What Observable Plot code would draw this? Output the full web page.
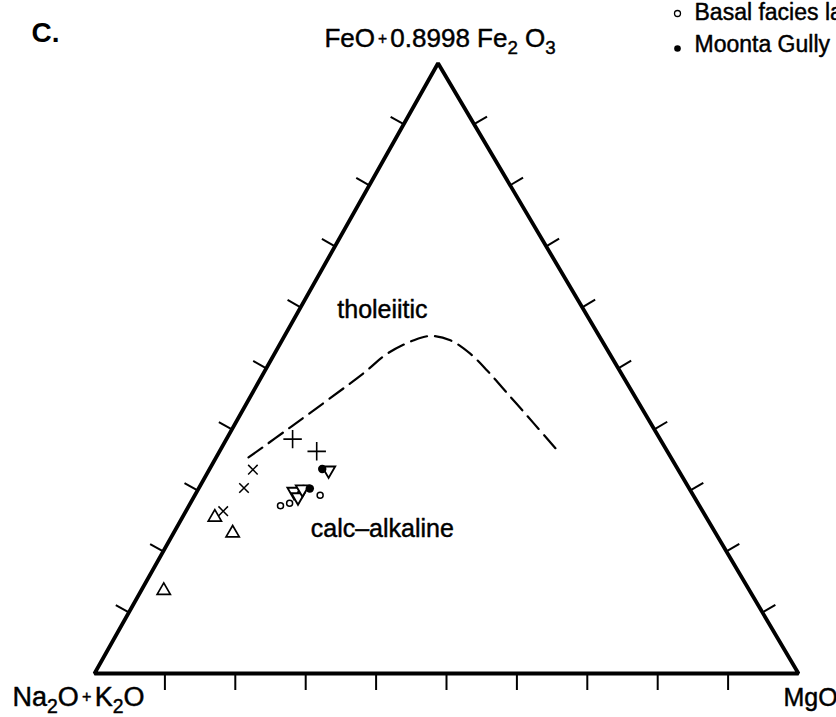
<!DOCTYPE html>
<html><head><meta charset="utf-8">
<script src="https://cdn.jsdelivr.net/npm/d3@7"></script>
<script src="https://cdn.jsdelivr.net/npm/@observablehq/plot@0.6"></script>
<style>
html,body{margin:0;padding:0;background:#fff;overflow:hidden;}
#chart{width:836px;height:717px;}
</style></head><body><div id="chart"></div>
<script>
// ---- data: compositions in percent, [Na2O+K2O, FeO*, MgO] ----
const cornerLabels = ["Na_2O+K_2O", "FeO+0.8998 Fe_2 O_3", "MgO"];
const tickValues = [10, 20, 30, 40, 50, 60, 70, 80, 90];

// tholeiitic / calc-alkaline boundary (dashed)
const boundaryA = [60.0, 51.6, 36.6, 31.6, 26.7, 24.0, 21.5, 19.8, 18.8, 17.7, 16.6, 15.4];
const boundaryF = [35.4, 40.3, 49.2, 52.4, 54.6, 55.3, 54.6, 52.4, 49.6, 45.3, 40.9, 36.0];
const boundaryM = [4.6, 8.1, 14.2, 16.0, 18.7, 20.7, 23.9, 27.8, 31.6, 37.0, 42.5, 48.6];

// samples by symbol
const timesPts   = [[60.4, 33.4, 6.2], [63.2, 30.4, 6.4], [68.1, 26.6, 5.3]];
const triUpPts   = [[69.8, 25.6, 4.6], [68.6, 23.0, 8.4], [83.2, 13.6, 3.2]];
const plusPts    = [[52.2, 38.4, 9.4], [49.8, 36.4, 13.8]];
const triDownPts = [[49.7, 33.3, 17.0], [56.4, 29.8, 13.8], [56.3, 28.9, 14.8], [55.0, 30.2, 14.8]];
const moontaPts  = [[50.5, 33.5, 16.0], [53.9, 30.3, 15.8]];
const basalPts   = [[53.0, 29.2, 17.8], [59.5, 27.5, 13.0], [58.0, 27.9, 14.1], [54.8, 30.3, 14.9]];

const fieldLabels = ["tholeiitic", "calc\u2013alkaline"];
const fieldLabelPos = [[29.3, 58.2, 12.5], [47.7, 22.3, 30.0]];
const legendLabels = ["Basal facies lavas", "Moonta Gully"];
const panelLabel = "C.";

// ---- ternary frame geometry (base = 1) ----
const apexX = 0.488, H = 0.867;
const proj = ([a, f, m]) => { const s = a + f + m; return {x: m / s + (f / s) * apexX, y: (f / s) * H}; };

const BL = proj([100, 0, 0]), BR = proj([0, 0, 100]), TOP = proj([0, 100, 0]);
const frame = [BL, BR, TOP, BL, BR];

// ticks: outward normals, length in frame units
const L = 15 / 704;
const nBottom = [0, -1];
const lenLeft = Math.hypot(apexX, H), nLeft = [-H / lenLeft, apexX / lenLeft];
const lenRight = Math.hypot(1 - apexX, H), nRight = [H / lenRight, (1 - apexX) / lenRight];
const tickSegs = [];
for (const t of tickValues) {
  const pb = proj([100 - t, 0, t]);
  tickSegs.push({x1: pb.x, y1: pb.y, x2: pb.x + L * nBottom[0], y2: pb.y + L * nBottom[1] * 1.1});
  const pl = proj([100 - t, t, 0]);
  tickSegs.push({x1: pl.x, y1: pl.y, x2: pl.x + L * nLeft[0], y2: pl.y + L * nLeft[1]});
  const pr = proj([0, t, 100 - t]);
  tickSegs.push({x1: pr.x, y1: pr.y, x2: pr.x + L * nRight[0], y2: pr.y + L * nRight[1]});
}

const boundary = boundaryA.map((a, i) => proj([a, boundaryF[i], boundaryM[i]]));
const P = arr => arr.map(proj);
const labels = fieldLabels.map((t, i) => ({text: t, ...proj(fieldLabelPos[i])}));

const font = "'Liberation Sans', Arial, Helvetica, sans-serif";
const ink = {fill: "#000", stroke: "#000", strokeWidth: 0.45};

const plot = Plot.plot({
  width: 836, height: 717,
  marginTop: 0, marginRight: 0, marginBottom: 0, marginLeft: 0,
  x: {domain: [0, 1], range: [94, 798], axis: null},
  y: {domain: [0, H], range: [673, 62.7], axis: null},
  style: {fontFamily: font, background: "#fff", color: "#000", overflow: "visible"},
  marks: [
    Plot.link(tickSegs, {x1: "x1", y1: "y1", x2: "x2", y2: "y2", stroke: "#000", strokeWidth: 2}),
    Plot.line(frame, {x: "x", y: "y", stroke: "#000", strokeWidth: 3.8, strokeLinejoin: "miter", strokeLinecap: "butt"}),
    Plot.line(boundary, {x: "x", y: "y", curve: "catmull-rom", stroke: "#000", strokeWidth: 2.2, strokeDasharray: "17,8"}),
    Plot.dot(P(timesPts), {x: "x", y: "y", symbol: "times", r: 4.4, stroke: "#000", strokeWidth: 1.5}),
    Plot.dot(P(plusPts), {x: "x", y: "y", symbol: "plus", r: 6, stroke: "#000", strokeWidth: 1.6}),
    Plot.dot(P(triUpPts), {x: "x", y: "y", symbol: "triangle", r: 4.9, stroke: "#000", fill: "#fff", strokeWidth: 1.7}),
    Plot.dot(P(basalPts), {x: "x", y: "y", symbol: "circle", r: 3, stroke: "#000", fill: "#fff", strokeWidth: 1.5}),
    Plot.dot(P(triDownPts), {x: "x", y: "y", symbol: "triangle", rotate: 180, r: 4.9, stroke: "#000", fill: "#fff", strokeWidth: 1.9}),
    Plot.dot(P(moontaPts), {x: "x", y: "y", symbol: "circle", r: 4.2, fill: "#000", stroke: "none"}),
    Plot.text(labels, {x: "x", y: "y", text: "text", fontSize: 25, lineAnchor: "bottom", textAnchor: "middle", ...ink}),
    // corner labels
    Plot.text([cornerLabels[0]], {x: () => BL.x, y: () => BL.y, text: d => d, dx: -16, dy: 32, fontSize: 27, lineAnchor: "bottom", textAnchor: "middle", ...ink}),
    Plot.text([cornerLabels[1]], {x: () => TOP.x, y: () => TOP.y, text: d => d, dx: 2, dy: -16, fontSize: 26, lineAnchor: "bottom", textAnchor: "middle", ...ink}),
    Plot.text([cornerLabels[2]], {x: () => BR.x, y: () => BR.y, text: d => d, dx: 12, dy: 32, fontSize: 25, lineAnchor: "bottom", textAnchor: "middle", ...ink}),
    // panel label
    Plot.text([panelLabel], {frameAnchor: "top-left", text: d => d, dx: 31, dy: 41, fontSize: 28, fontWeight: "bold", lineAnchor: "bottom", textAnchor: "start", fill: "#000"}),
    // legend
    Plot.dot([legendLabels[0]], {frameAnchor: "top-left", dx: 677, dy: 13, r: 3, stroke: "#000", fill: "#fff", strokeWidth: 1.3}),
    Plot.text([legendLabels[0]], {frameAnchor: "top-left", text: d => d, dx: 694, dy: 19, fontSize: 23, lineAnchor: "bottom", textAnchor: "start", ...ink}),
    Plot.dot([legendLabels[1]], {frameAnchor: "top-left", dx: 677, dy: 48, r: 3.3, fill: "#000"}),
    Plot.text([legendLabels[1]], {frameAnchor: "top-left", text: d => d, dx: 694, dy: 51, fontSize: 23, lineAnchor: "bottom", textAnchor: "start", ...ink})
  ]
});

document.getElementById("chart").appendChild(plot);

// rich text: "_x" -> subscript, "+" -> small plus
const NS = "http://www.w3.org/2000/svg";
for (const t of plot.querySelectorAll("text")) {
  const s = t.textContent;
  if (!/[_+]/.test(s)) continue;
  const fs = parseFloat(getComputedStyle(t).fontSize) || 20;
  while (t.firstChild) t.removeChild(t.firstChild);
  const re = /_(.)|(\+)|([^_+]+)/g; let m; let shift = 0;
  while ((m = re.exec(s))) {
    const ts = document.createElementNS(NS, "tspan");
    let target = 0;
    if (m[1]) { ts.textContent = m[1]; ts.setAttribute("font-size", (fs * 0.72).toFixed(1)); target = fs * 0.28; }
    else if (m[2]) { ts.textContent = "\u2009+\u2009"; ts.setAttribute("font-size", (fs * 0.6).toFixed(1)); target = -fs * 0.12; }
    else { ts.textContent = m[3]; }
    if (target !== shift) { ts.setAttribute("dy", (target - shift).toFixed(2)); shift = target; }
    t.appendChild(ts);
  }
}
</script>
</body></html>
